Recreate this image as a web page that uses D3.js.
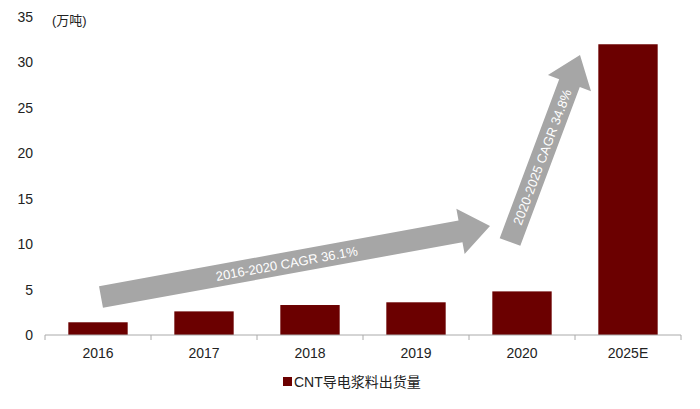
<!DOCTYPE html><html><head><meta charset="utf-8"><script src="https://cdn.jsdelivr.net/npm/d3@7"></script>
<style>body{margin:0;background:#fff}text{font-family:Arial,"Liberation Sans","Noto Sans CJK SC",sans-serif}</style></head><body><svg id="c" width="700" height="409"></svg><script>
const categories=["2016","2017","2018","2019","2020","2025E"];
const values=[1.4,2.6,3.3,3.6,4.8,32];
const yTicks=[0,5,10,15,20,25,30,35];
const svg=d3.select("#c");
const x=d3.scaleBand().domain(categories).range([45,681]).paddingInner(0.44).paddingOuter(0.22);
const y=d3.scaleLinear().domain([0,35]).range([335,17]);
const bandFull=(681-45)/6;
svg.append("g").selectAll("rect").data(values).join("rect")
 .attr("x",(d,i)=>x(categories[i])).attr("width",x.bandwidth())
 .attr("y",d=>y(d)).attr("height",d=>y(0)-y(d)).attr("fill","#6b0000");
svg.append("line").attr("x1",45).attr("x2",681).attr("y1",335).attr("y2",335).attr("stroke","#aaa");
for(let i=0;i<=6;i++)svg.append("line").attr("x1",45+i*bandFull).attr("x2",45+i*bandFull).attr("y1",335).attr("y2",340).attr("stroke","#aaa");
svg.append("g").selectAll("text").data(yTicks).join("text").attr("x",33).attr("y",d=>y(d)+5).attr("text-anchor","end").attr("font-size",14).attr("fill","#222").text(d=>d);
svg.append("g").selectAll("text").data(categories).join("text").attr("x",d=>x(d)+x.bandwidth()/2).attr("y",358).attr("text-anchor","middle").attr("font-size",14).attr("fill","#222").text(d=>d);
svg.append("text").attr("x",52).attr("y",25).attr("font-size",13).attr("fill","#222").text("(万吨)");
function arrow(x0,y0,x1,y1,w,hw,hl,label){
 const dx=x1-x0,dy=y1-y0,L=Math.hypot(dx,dy),a=Math.atan2(dy,dx)*180/Math.PI;
 const g=svg.append("g").attr("transform",`translate(${x0},${y0}) rotate(${a})`);
 g.append("path").attr("d",`M0,${-w/2}L${L-hl},${-w/2}L${L-hl},${-hw/2}L${L},0L${L-hl},${hw/2}L${L-hl},${w/2}L0,${w/2}Z`).attr("fill","#a6a6a6");
 g.append("text").attr("x",(L-hl)/2+hl*0.2).attr("y",5).attr("text-anchor","middle").attr("font-size",13).attr("fill","#fff").text(label);
}
arrow(101,297,490,226,22,46,30,"2016-2020 CAGR 36.1%");
arrow(510,242,580,55,22,46,30,"2020-2025 CAGR 34.8%");
svg.append("rect").attr("x",283).attr("y",377).attr("width",9).attr("height",9).attr("fill","#6b0000");
svg.append("text").attr("x",294).attr("y",387).attr("font-size",14).attr("fill","#222").text("CNT导电浆料出货量");
</script></body></html>
